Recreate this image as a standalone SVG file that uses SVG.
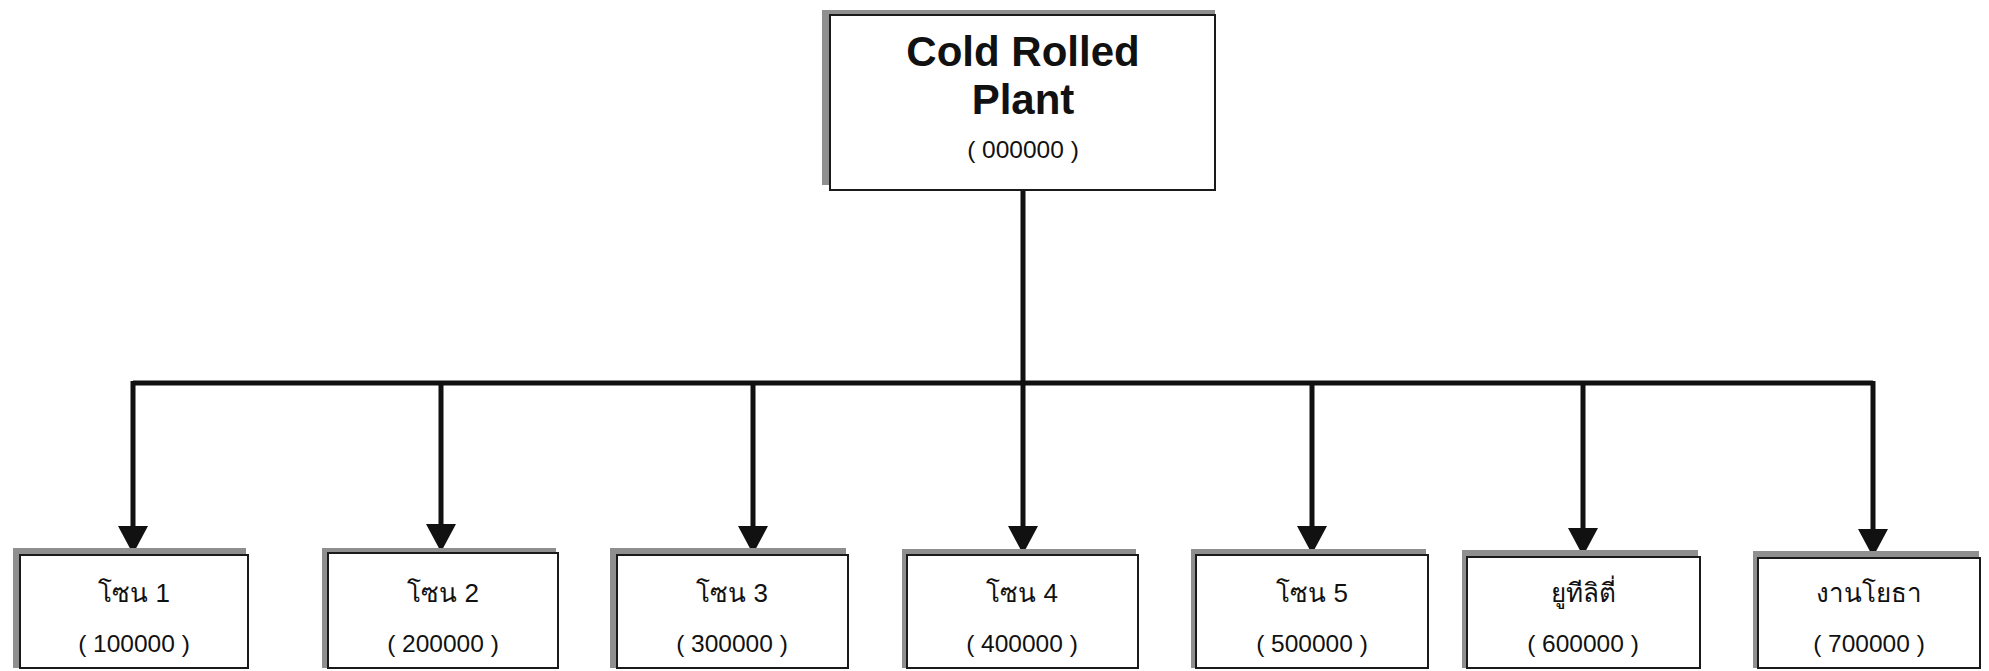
<svg xmlns="http://www.w3.org/2000/svg" width="1989" height="671" viewBox="0 0 1989 671">
  <style>
    .shadow { fill: #8f8f8f; }
    .box { fill: #ffffff; stroke: #1a1a1a; stroke-width: 2; }
    .title { font-family: "Liberation Sans", Arial, sans-serif; font-weight: bold; font-size: 42px; fill: #111; text-anchor: middle; }
    .name { font-family: "Liberation Sans", "DejaVu Sans", "Noto Sans", sans-serif; font-size: 26px; fill: #111; text-anchor: middle; }
    .code { font-family: "Liberation Sans", Arial, sans-serif; font-size: 24.5px; fill: #111; text-anchor: middle; }
    .wire { fill: none; stroke: #111; stroke-width: 5; }
  </style>
  <defs>
    <marker id="arrow" markerUnits="userSpaceOnUse" markerWidth="30" markerHeight="32" refX="0" refY="16" orient="auto" viewBox="0 0 30 32">
      <path d="M0,1 L28,16 L0,31 Z" fill="#111"/>
    </marker>
  </defs>
  <rect width="1989" height="671" fill="#ffffff"/>

  <!-- connectors -->
  <g id="connectors">
    <path class="wire" d="M1023,190 V383"/>
    <path class="wire" d="M133,383 H1873"/>
    <path class="wire" d="M133,381 V526" marker-end="url(#arrow)"/>
    <path class="wire" d="M441,381 V524" marker-end="url(#arrow)"/>
    <path class="wire" d="M753,381 V526" marker-end="url(#arrow)"/>
    <path class="wire" d="M1023,381 V526" marker-end="url(#arrow)"/>
    <path class="wire" d="M1312,381 V526" marker-end="url(#arrow)"/>
    <path class="wire" d="M1583,381 V528" marker-end="url(#arrow)"/>
    <path class="wire" d="M1873,381 V529" marker-end="url(#arrow)"/>
  </g>

  <!-- root -->
  <g id="node-root">
    <rect class="shadow" x="822" y="10" width="393" height="175"/>
    <rect class="box" x="830" y="15" width="385" height="175"/>
    <text class="title" x="1023" y="66">Cold Rolled</text>
    <text class="title" x="1023" y="114">Plant</text>
    <text class="code" x="1023" y="158">( 000000 )</text>
  </g>

  <!-- zones -->
  <g id="node-100000">
    <rect class="shadow" x="13" y="548" width="233" height="120"/>
    <rect class="box" x="20" y="555" width="228" height="113"/>
    <text class="name" x="134" y="602">โซน 1</text>
    <text class="code" x="134" y="652">( 100000 )</text>
  </g>
  <g id="node-200000">
    <rect class="shadow" x="322" y="548" width="234" height="120"/>
    <rect class="box" x="328" y="553" width="230" height="115"/>
    <text class="name" x="443" y="602">โซน 2</text>
    <text class="code" x="443" y="652">( 200000 )</text>
  </g>
  <g id="node-300000">
    <rect class="shadow" x="610" y="548" width="236" height="120"/>
    <rect class="box" x="617" y="555" width="231" height="113"/>
    <text class="name" x="732" y="602">โซน 3</text>
    <text class="code" x="732" y="652">( 300000 )</text>
  </g>
  <g id="node-400000">
    <rect class="shadow" x="902" y="549" width="234" height="119"/>
    <rect class="box" x="907" y="555" width="231" height="113"/>
    <text class="name" x="1022" y="602">โซน 4</text>
    <text class="code" x="1022" y="652">( 400000 )</text>
  </g>
  <g id="node-500000">
    <rect class="shadow" x="1191" y="549" width="235" height="119"/>
    <rect class="box" x="1196" y="555" width="232" height="113"/>
    <text class="name" x="1312" y="602">โซน 5</text>
    <text class="code" x="1312" y="652">( 500000 )</text>
  </g>
  <g id="node-600000">
    <rect class="shadow" x="1462" y="550" width="236" height="118"/>
    <rect class="box" x="1467" y="557" width="233" height="111"/>
    <text class="name" x="1583" y="602">ยูทีลิตี่</text>
    <text class="code" x="1583" y="652">( 600000 )</text>
  </g>
  <g id="node-700000">
    <rect class="shadow" x="1753" y="551" width="226" height="117"/>
    <rect class="box" x="1758" y="558" width="222" height="110"/>
    <text class="name" x="1869" y="602">งานโยธา</text>
    <text class="code" x="1869" y="652">( 700000 )</text>
  </g>
</svg>
